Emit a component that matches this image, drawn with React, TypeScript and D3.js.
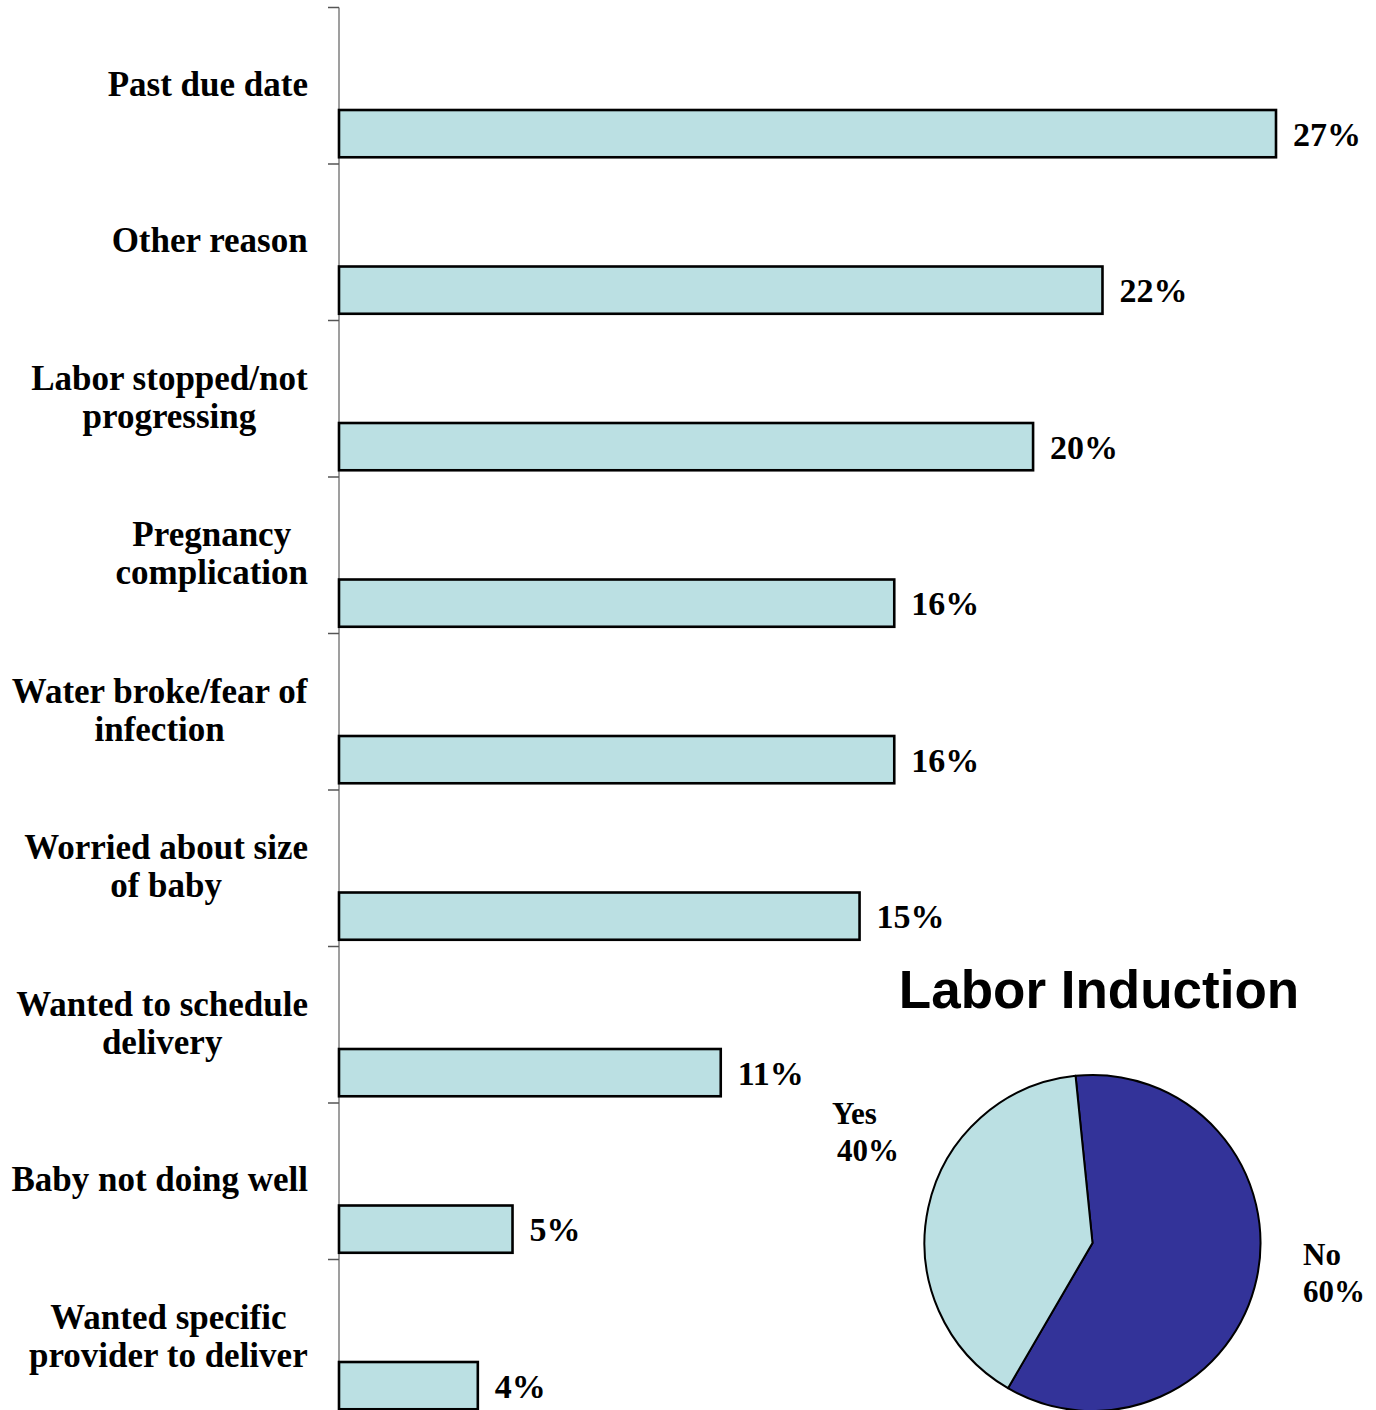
import React from "react";
import * as d3 from "d3";

const categories: string[][] = [
  ["Past due date"],
  ["Other reason"],
  ["Labor stopped/not", "progressing"],
  ["Pregnancy", "complication"],
  ["Water broke/fear of", "infection"],
  ["Worried about size", "of baby"],
  ["Wanted to schedule", "delivery"],
  ["Baby not doing well"],
  ["Wanted specific", "provider to deliver"],
];
const values: number[] = [27, 22, 20, 16, 16, 15, 11, 5, 4];

const pieLabels: string[] = ["No", "Yes"];
const pieValues: number[] = [60, 40];
const pieTitle = "Labor Induction";

const W = 1376;
const H = 1410;
const LABEL_FONT = "bold 35px 'Liberation Serif', 'Times New Roman', serif";

function measure(text: string, font: string): number {
  if (typeof document === "undefined") return text.length * 16;
  const c = document.createElement("canvas");
  const ctx = c.getContext("2d")!;
  ctx.font = font;
  return ctx.measureText(text).width;
}

export default function App() {
  const keys = categories.map((c) => c.join(" "));
  const y = d3.scaleBand<string>().domain(keys).range([7.5, 7.5 + 156.5 * 9]).paddingInner(0).paddingOuter(0);
  const x = d3.scaleLinear().domain([0, 27]).range([339, 1276]);
  const bw = y.bandwidth();
  const barTop = (k: string) => (y(k) as number) + bw * 0.655;
  const barH = bw * 0.302;

  const pieGen = d3.pie<number>().sort(null).startAngle(-0.101).endAngle(-0.101 + Math.PI * 2);
  const arcs = pieGen(pieValues);
  const r = 168;
  const arcGen = d3.arc<d3.PieArcDatum<number>>().innerRadius(0).outerRadius(r);
  const cx = 1092.5;
  const cy = 1243;

  const labelRight = 308;

  return (
    <svg width={W} height={H} style={{ position: "absolute", left: 0, top: 0, background: "#fff" }}>
      {/* axis */}
      <line x1={339} x2={339} y1={7.5} y2={7.5 + 156.5 * 9} stroke="#7f7f7f" strokeWidth={1.5} />
      {keys.map((k) => (
        <line key={"t" + k} x1={328} x2={339} y1={y(k) as number} y2={y(k) as number} stroke="#555" strokeWidth={1.5} />
      ))}
      <line x1={328} x2={339} y1={7.5 + 156.5 * 9} y2={7.5 + 156.5 * 9} stroke="#555" strokeWidth={1.5} />
      {/* bars */}
      {keys.map((k, i) => (
        <rect
          key={"b" + k}
          x={x(0)}
          y={barTop(k)}
          width={x(values[i]) - x(0)}
          height={barH}
          fill="#BBE0E3"
          stroke="#000"
          strokeWidth={2.6}
        />
      ))}
      {keys.map((k, i) => (
        <text
          key={"v" + k}
          x={x(values[i]) + 17}
          y={barTop(k) + barH / 2 + 12}
          fontFamily="'Liberation Serif', 'Times New Roman', serif"
          fontWeight="bold"
          fontSize={34}
          fill="#000"
        >
          {values[i]}%
        </text>
      ))}
      {/* category labels */}
      {categories.map((lines, i) => {
        const k = keys[i];
        const maxW = Math.max(...lines.map((l) => measure(l, LABEL_FONT)));
        const centerX = labelRight - maxW / 2;
        const lh = 38;
        const mid = (y(k) as number) + 88;
        const first = mid - ((lines.length - 1) * lh) / 2;
        return (
          <text
            key={"l" + k}
            textAnchor="middle"
            fontFamily="'Liberation Serif', 'Times New Roman', serif"
            fontWeight="bold"
            fontSize={35}
            fill="#000"
          >
            {lines.map((l, j) => (
              <tspan key={j} x={centerX} y={first + j * lh}>
                {l}
              </tspan>
            ))}
          </text>
        );
      })}
      {/* pie */}
      <text
        x={1099}
        y={1008}
        textAnchor="middle"
        fontFamily="'Liberation Sans', Arial, sans-serif"
        fontWeight="bold"
        fontSize={53}
        fill="#000"
      >
        {pieTitle}
      </text>
      <g transform={`translate(${cx},${cy})`}>
        {arcs.map((a, i) => (
          <path key={i} d={arcGen(a) || ""} fill={i === 0 ? "#333399" : "#BBE0E3"} stroke="#000" strokeWidth={2} strokeLinejoin="round" />
        ))}
      </g>
      <text fontFamily="'Liberation Serif', 'Times New Roman', serif" fontWeight="bold" fontSize={31} fill="#000">
        <tspan x={832} y={1124}>{pieLabels[1]}</tspan>
        <tspan x={837} y={1161}>{pieValues[1]}%</tspan>
      </text>
      <text fontFamily="'Liberation Serif', 'Times New Roman', serif" fontWeight="bold" fontSize={31} fill="#000">
        <tspan x={1303} y={1265}>{pieLabels[0]}</tspan>
        <tspan x={1303} y={1302}>{pieValues[0]}%</tspan>
      </text>
    </svg>
  );
}
